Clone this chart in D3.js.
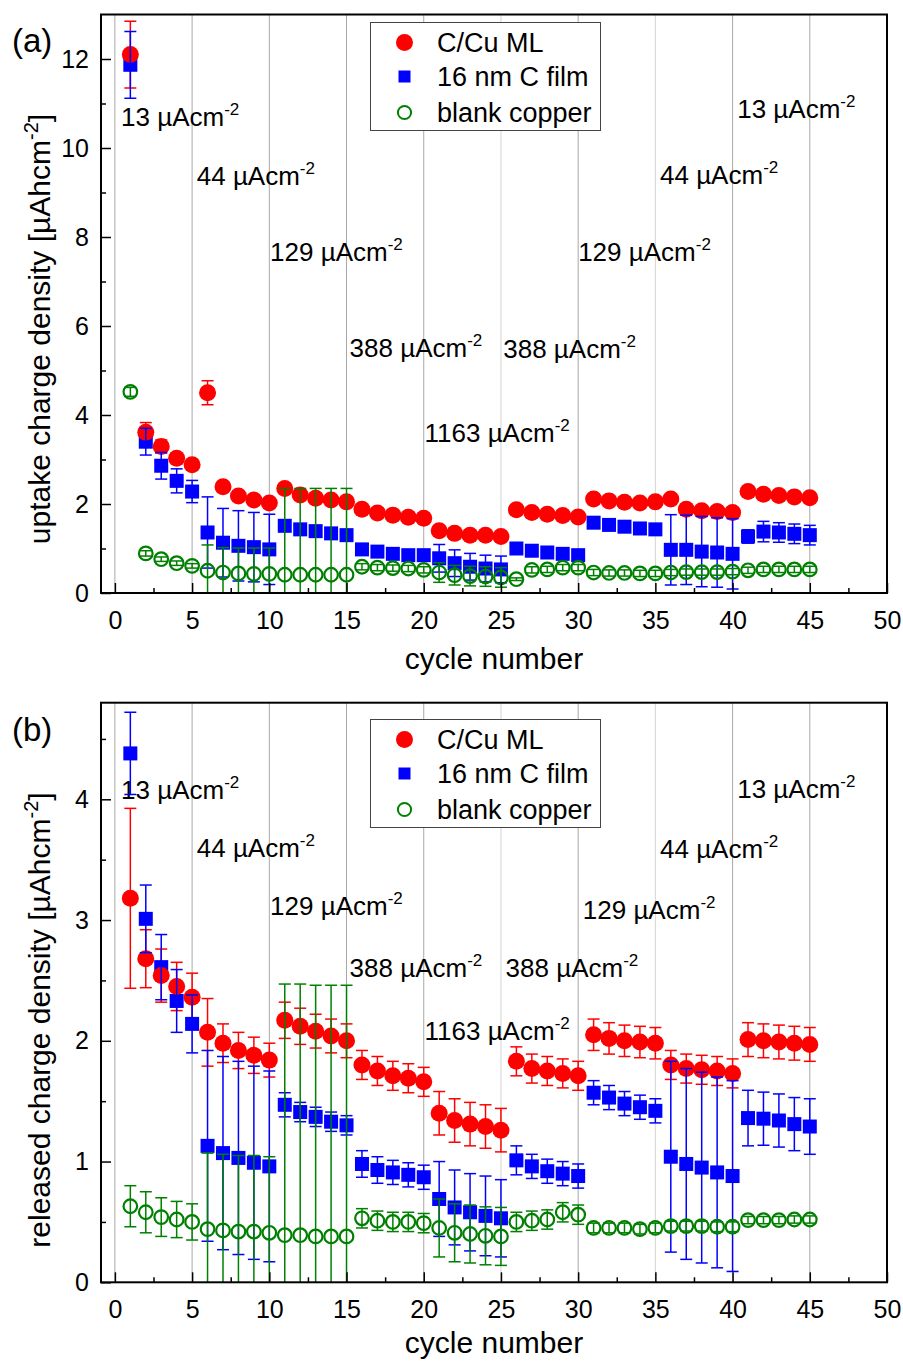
<!DOCTYPE html>
<html>
<head>
<meta charset="utf-8">
<script src="https://cdn.jsdelivr.net/npm/d3@7/dist/d3.min.js"></script>
<style>
  body { margin: 0; background: #fff; }
  text { font-family: "Liberation Sans", Arial, Helvetica, sans-serif; fill: #000; }
</style>
</head>
<body>
<svg id="chart" width="903" height="1361"></svg>
<script>
// ---- data -------------------------------------------------------------
const cycles = [1,2,3,4,5,6,7,8,9,10,11,12,13,14,15,16,17,18,19,20,21,22,23,24,25,
                26,27,28,29,30,31,32,33,34,35,36,37,38,39,40,41,42,43,44,45];

// (a) uptake charge density, µAh cm^-2
const uptakeCCuML = [12.10,3.61,3.29,3.03,2.88,4.50,2.39,2.18,2.09,2.02,
                     2.35,2.20,2.13,2.09,2.05,1.88,1.80,1.75,1.70,1.68,
                     1.40,1.34,1.30,1.30,1.27,1.87,1.81,1.77,1.74,1.71,
                     2.11,2.07,2.04,2.02,2.05,2.11,1.88,1.85,1.83,1.81,
                     2.28,2.22,2.19,2.16,2.14];
const uptakeCCuMLErr = [0.75,0.22,0.15,0.12,0.12,0.27,0.08,0.08,0.08,0.08,
                        0.08,0.08,0.08,0.08,0.08,0.06,0.06,0.06,0.06,0.06,
                        0.08,0.08,0.08,0.08,0.08,0.06,0.06,0.06,0.06,0.06,
                        0.06,0.06,0.06,0.06,0.06,0.06,0.06,0.06,0.06,0.06,
                        0.06,0.06,0.06,0.06,0.06];
const uptakeCFilm = [11.87,3.40,2.86,2.52,2.28,1.36,1.13,1.06,1.03,0.98,
                     1.51,1.43,1.39,1.34,1.30,0.98,0.93,0.88,0.85,0.85,
                     0.78,0.67,0.59,0.55,0.53,1.00,0.95,0.91,0.88,0.85,
                     1.58,1.53,1.49,1.45,1.43,0.97,0.97,0.93,0.91,0.88,
                     1.27,1.38,1.36,1.33,1.30];
const uptakeCFilmErr = [0.75,0.30,0.30,0.27,0.25,0.80,0.77,0.79,0.78,0.79,
                        0.08,0.08,0.08,0.08,0.08,0.06,0.06,0.06,0.06,0.06,
                        0.31,0.30,0.30,0.30,0.30,0.06,0.06,0.06,0.06,0.06,
                        0.06,0.06,0.06,0.06,0.06,0.79,0.78,0.79,0.78,0.79,
                        0.15,0.23,0.22,0.22,0.22];
const uptakeCopper = [4.52,0.89,0.76,0.67,0.61,0.50,0.46,0.44,0.43,0.43,
                      0.41,0.41,0.41,0.41,0.41,0.59,0.57,0.56,0.55,0.52,
                      0.46,0.40,0.38,0.37,0.35,0.31,0.52,0.53,0.57,0.57,
                      0.46,0.45,0.45,0.44,0.44,0.46,0.47,0.47,0.47,0.48,
                      0.51,0.53,0.53,0.53,0.53];
const uptakeCopperErr = [0.10,0.06,0.05,0.05,0.05,0.58,0.56,0.57,0.58,0.58,
                         1.94,1.94,1.94,1.94,1.94,0.07,0.07,0.07,0.07,0.07,
                         0.22,0.22,0.22,0.22,0.22,0.03,0.07,0.07,0.07,0.07,
                         0.07,0.07,0.07,0.07,0.07,0.07,0.07,0.07,0.07,0.07,
                         0.07,0.07,0.07,0.07,0.07];

// (b) released charge density, µAh cm^-2
const releasedCCuML = [3.18,2.68,2.54,2.45,2.36,2.07,1.98,1.92,1.88,1.84,
                       2.17,2.12,2.08,2.04,2.00,1.80,1.75,1.71,1.69,1.66,
                       1.40,1.34,1.31,1.29,1.26,1.83,1.77,1.75,1.73,1.71,
                       2.05,2.02,2.00,1.99,1.98,1.80,1.77,1.76,1.75,1.73,
                       2.01,2.00,1.99,1.98,1.97];
const releasedCCuMLErr = [0.745,0.24,0.22,0.20,0.20,0.28,0.16,0.15,0.15,0.14,
                          0.15,0.15,0.14,0.14,0.14,0.12,0.12,0.12,0.12,0.12,
                          0.18,0.18,0.18,0.18,0.18,0.12,0.12,0.12,0.12,0.12,
                          0.13,0.13,0.13,0.13,0.13,0.12,0.12,0.12,0.12,0.12,
                          0.14,0.14,0.14,0.14,0.14];
const releasedCFilm = [4.38,3.01,2.61,2.33,2.14,1.13,1.07,1.03,0.99,0.96,
                       1.47,1.41,1.37,1.33,1.30,0.98,0.93,0.91,0.89,0.87,
                       0.69,0.62,0.58,0.55,0.53,1.01,0.96,0.92,0.90,0.88,
                       1.57,1.53,1.48,1.45,1.42,1.04,0.98,0.95,0.91,0.88,
                       1.36,1.355,1.34,1.31,1.29];
const releasedCFilmErr = [0.34,0.28,0.27,0.26,0.24,0.79,0.80,0.80,0.80,0.79,
                          0.10,0.08,0.08,0.08,0.08,0.11,0.11,0.10,0.10,0.10,
                          0.31,0.31,0.32,0.33,0.32,0.12,0.10,0.10,0.10,0.10,
                          0.10,0.10,0.10,0.10,0.10,0.79,0.79,0.79,0.79,0.79,
                          0.23,0.22,0.22,0.22,0.23];
const releasedCopper = [0.63,0.58,0.54,0.52,0.50,0.44,0.43,0.42,0.42,0.41,
                        0.39,0.39,0.38,0.38,0.38,0.53,0.51,0.50,0.50,0.49,
                        0.45,0.41,0.40,0.385,0.38,0.50,0.51,0.52,0.58,0.56,
                        0.45,0.45,0.45,0.44,0.45,0.465,0.465,0.465,0.46,0.46,
                        0.515,0.515,0.515,0.52,0.52];
const releasedCopperErr = [0.17,0.17,0.16,0.15,0.15,0.63,0.63,0.63,0.63,0.63,
                           2.08,2.08,2.08,2.08,2.08,0.08,0.08,0.08,0.08,0.08,
                           0.24,0.24,0.24,0.24,0.24,0.08,0.08,0.08,0.08,0.08,
                           0.04,0.04,0.04,0.04,0.04,0.04,0.04,0.04,0.04,0.04,
                           0.03,0.03,0.03,0.03,0.03];

const seriesNames = ["C/Cu ML", "16 nm C film", "blank copper"];

// current-density step labels (µA cm^-2) with their anchor in data units
const rateLabels = ["13", "44", "129", "388", "1163", "388", "129", "44", "13"];
const rateAnchorCycle = [0.4, 5.3, 10.05, 15.2, 20.05, 25.15, 30.0, 35.3, 40.3];
const rateAnchorUptake = [10.49, 9.17, 7.45, 5.30, 3.40, 5.27, 7.45, 9.19, 10.67];
const rateAnchorCycleReleased = [0.4, 5.3, 10.05, 15.2, 20.05, 25.3, 30.3, 35.3, 40.3];
const rateAnchorReleased = [4.00, 3.52, 3.04, 2.53, 2.01, 2.53, 3.01, 3.51, 4.01];

const xMajorTicks = [0,5,10,15,20,25,30,35,40,45,50];
const xMinorTicks = [2.5,7.5,12.5,17.5,22.5,27.5,32.5,37.5,42.5,47.5];
const gridCycles = [0,5,10,15,20,25,30,35,40,45];

// ---- layout -----------------------------------------------------------
const svg = d3.select("#chart");
const x = d3.scaleLinear().domain([-0.9, 50]).range([101, 887]);

const COLORS = { red: "#ff0000", blue: "#0000ff", green: "#008000" };
const FONT_TICK = 25, FONT_TITLE = 30, FONT_NOTE = 26, FONT_LEGEND = 27;

function addSuperscriptText(sel, base, sup, tail, supSize, rise) {
  sel.append("tspan").text(base);
  sel.append("tspan").attr("dy", -rise).attr("font-size", supSize).text(sup);
  if (tail) sel.append("tspan").attr("dy", rise).text(tail);
}

function drawPanel(p) {
  const y = d3.scaleLinear().domain(p.yDomain).range(p.yRange);
  const left = x.range()[0], right = x.range()[1];
  const bottom = p.yRange[0], top = p.yRange[1];
  const g = svg.append("g");

  const clipId = "clip-" + p.id;
  svg.append("defs").append("clipPath").attr("id", clipId)
    .append("rect").attr("x", left).attr("y", top)
    .attr("width", right - left).attr("height", bottom - top);

  // vertical guide lines every five cycles
  g.append("g").selectAll("line").data(gridCycles).join("line")
    .attr("x1", d => x(d)).attr("x2", d => x(d))
    .attr("y1", top).attr("y2", bottom)
    .attr("stroke", (d, i) => (d === 25 || d === 35) ? "#d4d4d4" : "#a8a8a8")
    .attr("stroke-width", 1);

  // current-density annotations
  const notes = g.append("g");
  rateLabels.forEach((lab, i) => {
    const t = notes.append("text")
      .attr("x", x(p.noteCycle[i]))
      .attr("y", y(p.noteValue[i]))
      .attr("font-size", FONT_NOTE);
    addSuperscriptText(t, lab + " \u00b5Acm", "-2", null, 17, 11);
  });

  // data
  const data = g.append("g").attr("clip-path", `url(#${clipId})`);
  const capW = 6;

  function errorBars(vals, errs, color) {
    const eg = data.append("g").attr("stroke", color).attr("stroke-width", 1.5).attr("fill", "none");
    const pts = cycles.map((c, i) => ({ c, v: vals[i], e: errs[i] }));
    eg.selectAll("line.v").data(pts).join("line").attr("class", "v")
      .attr("x1", d => x(d.c)).attr("x2", d => x(d.c))
      .attr("y1", d => y(d.v - d.e)).attr("y2", d => y(d.v + d.e));
    eg.selectAll("line.t").data(pts).join("line").attr("class", "t")
      .attr("x1", d => x(d.c) - capW).attr("x2", d => x(d.c) + capW)
      .attr("y1", d => y(d.v + d.e)).attr("y2", d => y(d.v + d.e));
    eg.selectAll("line.b").data(pts).join("line").attr("class", "b")
      .attr("x1", d => x(d.c) - capW).attr("x2", d => x(d.c) + capW)
      .attr("y1", d => y(d.v - d.e)).attr("y2", d => y(d.v - d.e));
  }

  errorBars(p.red, p.redErr, COLORS.red);

  data.append("g").selectAll("rect").data(cycles).join("rect")
    .attr("x", (c) => x(c) - 7).attr("y", (c, i) => y(p.blue[i]) - 7)
    .attr("width", 14).attr("height", 14)
    .attr("fill", COLORS.blue);

  data.append("g").selectAll("circle").data(cycles).join("circle")
    .attr("cx", c => x(c)).attr("cy", (c, i) => y(p.red[i]))
    .attr("r", 8.5).attr("fill", COLORS.red);

  errorBars(p.blue, p.blueErr, COLORS.blue);
  errorBars(p.green, p.greenErr, COLORS.green);

  data.append("g").selectAll("circle").data(cycles).join("circle")
    .attr("cx", c => x(c)).attr("cy", (c, i) => y(p.green[i]))
    .attr("r", 6.8).attr("fill", "none")
    .attr("stroke", COLORS.green).attr("stroke-width", 2.2);

  // legend
  const lg = g.append("g").attr("transform", `translate(370,${p.legendTop})`);
  lg.append("rect").attr("x", 0.5).attr("y", 0.5).attr("width", 230).attr("height", 108)
    .attr("fill", "#fff").attr("stroke", "#444").attr("stroke-width", 1);
  const rowY = [20.5, 54.5, 90.5];
  lg.append("circle").attr("cx", 34.5).attr("cy", rowY[0]).attr("r", 8.5).attr("fill", COLORS.red);
  lg.append("rect").attr("x", 28.5).attr("y", rowY[1] - 6).attr("width", 12).attr("height", 12).attr("fill", COLORS.blue);
  lg.append("circle").attr("cx", 34.5).attr("cy", rowY[2]).attr("r", 6.6)
    .attr("fill", "none").attr("stroke", COLORS.green).attr("stroke-width", 2);
  lg.selectAll("text").data(seriesNames).join("text")
    .attr("x", 67).attr("y", (d, i) => rowY[i] + 9.5)
    .attr("font-size", FONT_LEGEND).text(d => d);

  // axes (ticks point inward)
  const ax = g.append("g").attr("transform", `translate(0,${bottom})`);
  ax.call(d3.axisBottom(x).tickValues(xMajorTicks).tickSize(-10).tickPadding(18).tickFormat(d3.format("d")));
  ax.append("g").call(d3.axisBottom(x).tickValues(xMinorTicks).tickSize(-5).tickFormat(""));
  const ay = g.append("g").attr("transform", `translate(${left},0)`);
  ay.call(d3.axisLeft(y).tickValues(p.yMajor).tickSize(-10).tickPadding(12).tickFormat(d3.format("d")));
  ay.append("g").call(d3.axisLeft(y).tickValues(p.yMinor).tickSize(-5).tickFormat(""));
  g.selectAll(".domain").remove();
  g.selectAll(".tick line").attr("stroke", "#000").attr("stroke-width", 1.5);
  g.selectAll(".tick text").attr("font-size", FONT_TICK).attr("fill", "#000")
    .attr("font-family", "'Liberation Sans', Arial, sans-serif");

  // frame
  g.append("rect").attr("x", left).attr("y", top)
    .attr("width", right - left).attr("height", bottom - top)
    .attr("fill", "none").attr("stroke", "#000").attr("stroke-width", 2);

  // axis titles
  g.append("text").attr("x", 494).attr("y", p.xTitleY)
    .attr("text-anchor", "middle").attr("font-size", FONT_TITLE).text("cycle number");
  const yt = g.append("text")
    .attr("transform", `translate(50,${p.yTitleCenter}) rotate(-90)`)
    .attr("text-anchor", "middle").attr("font-size", FONT_TITLE);
  addSuperscriptText(yt, p.yTitle + " [\u00b5Ahcm", "-2", "]", 20, 12);

  // panel tag
  g.append("text").attr("x", 12).attr("y", p.tagY).attr("font-size", 33).text(p.tag);
}

drawPanel({
  id: "a", tag: "(a)", tagY: 52,
  yDomain: [0, 13], yRange: [593, 14.5],
  yMajor: [0,2,4,6,8,10,12], yMinor: [1,3,5,7,9,11],
  red: uptakeCCuML, redErr: uptakeCCuMLErr,
  blue: uptakeCFilm, blueErr: uptakeCFilmErr,
  green: uptakeCopper, greenErr: uptakeCopperErr,
  noteCycle: rateAnchorCycle, noteValue: rateAnchorUptake,
  legendTop: 22, xTitleY: 669,
  yTitle: "uptake charge density", yTitleCenter: 329
});

drawPanel({
  id: "b", tag: "(b)", tagY: 741,
  yDomain: [0, 4.8], yRange: [1282.3, 702.7],
  yMajor: [0,1,2,3,4], yMinor: [0.5,1.5,2.5,3.5,4.5],
  red: releasedCCuML, redErr: releasedCCuMLErr,
  blue: releasedCFilm, blueErr: releasedCFilmErr,
  green: releasedCopper, greenErr: releasedCopperErr,
  noteCycle: rateAnchorCycleReleased, noteValue: rateAnchorReleased,
  legendTop: 719, xTitleY: 1353,
  yTitle: "released charge density", yTitleCenter: 1020
});
</script>
</body>
</html>
